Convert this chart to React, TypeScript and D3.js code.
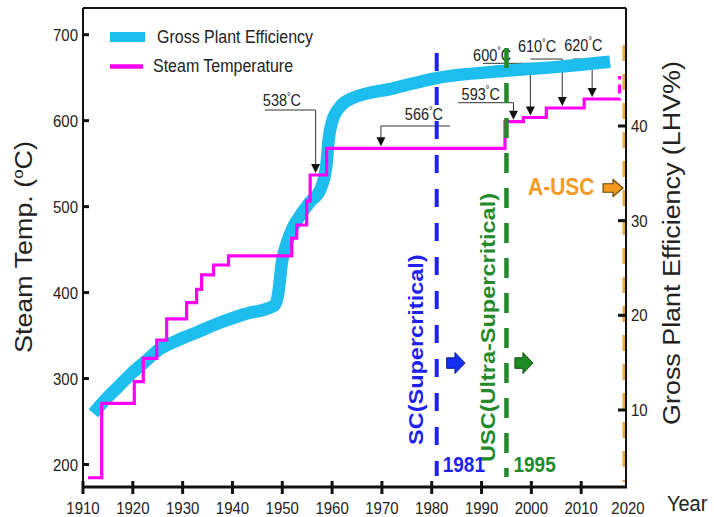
import React from "react";
import * as d3 from "d3";

// ---------- data ----------
const effYears = [1912.07, 1914.42, 1917.09, 1919.78, 1922.45, 1925.12, 1929.14, 1933.15, 1937.17, 1941.87, 1948.55, 1949.2, 1949.9, 1950.9, 1952.2, 1953.9, 1955.6, 1957.6, 1958.4, 1958.9, 1959.3, 1959.9, 1961.6, 1964.2, 1972.3, 1980.7, 1994.3, 2005.8, 2015.8];
const effValues = [9.65, 11.06, 12.46, 13.88, 15.1, 16.34, 17.4, 18.27, 19.16, 20.04, 21.09, 22.33, 25.5, 27.61, 29.36, 30.78, 32.0, 33.24, 34.5, 36.06, 38.52, 40.29, 42.04, 42.96, 43.98, 45.04, 45.81, 46.27, 46.79];

const tempYears = [1911.0, 1913.75, 1920.3, 1922.1, 1924.8, 1926.8, 1930.8, 1932.8, 1933.8, 1936.2, 1939.2, 1951.9, 1952.9, 1954.9, 1955.6, 1958.9, 1994.7, 1998.4, 2003.0, 2010.6, 2016.0];
const tempValues = [184.6, 271.0, 296.3, 323.5, 344.8, 369.3, 388.2, 403.8, 420.5, 432.1, 442.6, 463.2, 478.6, 506.5, 536.8, 567.8, 598.8, 603.7, 614.7, 625.2, 625.2];

const futureYears = [2016.0, 2017.7, 2017.7];
const futureTemps = [625.2, 625.2, 652];

const xTickValues = [1910, 1920, 1930, 1940, 1950, 1960, 1970, 1980, 1990, 2000, 2010];
const xTickLabels = ["1910", "1920", "1930", "1940", "1950", "1960", "1970", "1980", "1990", "2000", "2010", "2020"];
const leftTicks = [200, 300, 400, 500, 600, 700];
const rightTicks = [10, 20, 30, 40];

const annLabels = ["538", "566", "593", "600", "610", "620"];
const annArrowYears = [1956.7, 1969.8, 1996.4, 1999.8, 2006.2, 2012.2];
const annTargetTemps = [536.8, 567.8, 598.8, 603.7, 614.7, 625.2];
const annLeaderTemps = [612.4, 593.8, 620.9, 666.7, 671.7, 671.7];
const annLeaderStart = [1946.5, 1969.8, 1985.3, 1990.3, 1999.8, 2008.4];
const annLeaderEnd = [1956.7, 1983.7, 1996.4, 1999.8, 2006.2, 2012.2];
const annTextYears = [1946.1, 1974.6, 1986.0, 1988.3, 1997.3, 2006.6];
const annTextTemps = [616.5, 600.2, 624.3, 669.6, 679.3, 681.3];

const scYear = 1981;
const uscYear = 1995;

// ---------- styling ----------
const K = 1.12;
const FONT = "'Liberation Sans', Arial, Helvetica, sans-serif";
const CYAN = "#1dbdee";
const MAGENTA = "#ff00f5";
const BLUE = "#1e22ee";
const GREEN = "#24892b";
const ORANGE = "#f59b23";
const INK = "#222";

type TProps = {
  x: number; y: number; size: number; anchor?: string; weight?: string | number;
  fill?: string; rotate?: boolean; children: React.ReactNode;
};
const T = ({ x, y, size, anchor = "start", weight = "normal", fill = INK, rotate = false, children }: TProps) => (
  <text
    transform={`translate(${x},${y}) scale(1,${K})${rotate ? " rotate(-90)" : ""}`}
    fontSize={size}
    textAnchor={anchor as any}
    fontWeight={weight as any}
    fill={fill}
    fontFamily={FONT}
  >
    {children}
  </text>
);

function blockArrow(x0: number, x1: number, yc: number, h: number, bodyFrac = 0.45) {
  const xm = x0 + (x1 - x0) * bodyFrac;
  const bh = h * 0.25;
  return `M${x0},${yc - bh}L${xm},${yc - bh}L${xm},${yc - h / 2}L${x1},${yc}L${xm},${yc + h / 2}L${xm},${yc + bh}L${x0},${yc + bh}Z`;
}

export default function App() {
  const W = 714, H = 517;
  const x = d3.scaleLinear().domain([1910, 2020]).range([83, 631]);
  const yT = d3.scaleLinear().domain([200, 700]).range([464.5, 34.7]);
  const yE = d3.scaleLinear().domain([10, 40]).range([410, 126]);
  const left = x(1910), right = x(2019), top = 8, bottom = 487;

  const effLine = d3.line<number>()
    .x((_, i) => x(effYears[i]))
    .y((d) => yE(d))
    .curve(d3.curveMonotoneX);
  const tempLine = d3.line<number>()
    .x((_, i) => x(tempYears[i]))
    .y((d) => yT(d))
    .curve(d3.curveStepAfter);
  const futureLine = d3.line<number>()
    .x((_, i) => x(futureYears[i]))
    .y((d) => yT(d));

  return (
    <svg width={W} height={H} style={{ position: "absolute", left: 0, top: 0, display: "block", background: "#fff" }}>
      <rect x={0} y={0} width={W} height={H} fill="#fff" />

      {/* annotation leaders (behind curves) */}
      {annLabels.map((_, i) => {
        const ly = yT(annLeaderTemps[i]);
        const ax = x(annArrowYears[i]);
        const tip = yT(annTargetTemps[i]) - 2;
        return (
          <g key={"ann" + i}>
            <line x1={x(annLeaderStart[i])} x2={x(annLeaderEnd[i])} y1={ly} y2={ly} stroke="#333" strokeWidth={1} />
            <line x1={ax} x2={ax} y1={ly} y2={tip - 8} stroke="#333" strokeWidth={1} />
            <path d={`M${ax - 4.5},${tip - 9}L${ax + 4.5},${tip - 9}L${ax},${tip}Z`} fill="#111" />
          </g>
        );
      })}

      {/* efficiency curve */}
      <path d={effLine(effValues) || ""} fill="none" stroke={CYAN} strokeWidth={12.5} strokeLinecap="butt" strokeLinejoin="round" />

      {/* steam temperature step line */}
      <path d={tempLine(tempValues) || ""} fill="none" stroke={MAGENTA} strokeWidth={3.2} strokeLinejoin="miter" />
      <path d={futureLine(futureTemps) || ""} fill="none" stroke={MAGENTA} strokeWidth={3.2} strokeDasharray="9,5" />

      {/* annotation labels */}
      {annLabels.map((l, i) => (
        <T key={"at" + i} x={x(annTextYears[i])} y={yT(annTextTemps[i])} size={14.5}>
          {l}
          <tspan fontSize={9} dy={-6}>°</tspan>
          <tspan dy={6}>C</tspan>
        </T>
      ))}

      {/* vertical dashed markers */}
      <line x1={x(scYear)} x2={x(scYear)} y1={53} y2={476} stroke={BLUE} strokeWidth={4} strokeDasharray="18,16" />
      <line x1={x(uscYear)} x2={x(uscYear)} y1={48} y2={477} stroke={GREEN} strokeWidth={4.5} strokeDasharray="20,15" />
      <line x1={right - 1.5} x2={right - 1.5} y1={45} y2={482} stroke="#eba83c" strokeWidth={4} strokeDasharray="16,13" />

      {/* era labels */}
      <T x={423} y={445} size={21} weight="bold" fill={BLUE} rotate>SC(Supercritical)</T>
      <T x={495} y={462} size={21} weight="bold" fill={GREEN} rotate>USC(Ultra-Supercritical)</T>
      <T x={x(scYear) + 6} y={472} size={19} weight="bold" fill={BLUE}>{String(scYear)}</T>
      <T x={x(uscYear) + 7} y={472} size={19} weight="bold" fill={GREEN}>{String(uscYear)}</T>
      <path d={blockArrow(x(1983.0), x(1986.7), yT(318), 21)} fill="#1430f2" stroke="#0b1a90" strokeWidth={1} />
      <path d={blockArrow(x(1996.7), x(2000.3), yT(318), 21)} fill="#1f8a22" stroke="#0d4d10" strokeWidth={1} />
      <T x={528} y={195} size={21} weight="bold" fill={ORANGE}>A-USC</T>
      <path d={blockArrow(x(2014.4), x(2018.4), yE(33.45), 17, 0.5)} fill="#f39a1e" stroke="#6b4200" strokeWidth={1.2} />

      {/* frame */}
      <line x1={left} x2={left} y1={top} y2={bottom} stroke="#111" strokeWidth={2} />
      <line x1={left} x2={right} y1={top} y2={top} stroke="#111" strokeWidth={2} />
      <line x1={right} x2={right} y1={top} y2={bottom} stroke="#111" strokeWidth={2} />
      <line x1={left - 1} x2={right + 1} y1={bottom} y2={bottom} stroke="#111" strokeWidth={3} />

      {/* left axis */}
      {leftTicks.map((v) => (
        <g key={"lt" + v}>
          <line x1={left} x2={left + 6} y1={yT(v)} y2={yT(v)} stroke="#111" strokeWidth={3} />
          <T x={left - 5} y={yT(v) + 6} size={15} anchor="end">{String(v)}</T>
        </g>
      ))}
      {/* right axis */}
      {rightTicks.map((v) => (
        <g key={"rt" + v}>
          <line x1={right - 8} x2={right} y1={yE(v)} y2={yE(v)} stroke="#111" strokeWidth={3} />
          <T x={right + 5} y={yE(v) + 6} size={15}>{String(v)}</T>
        </g>
      ))}
      {/* bottom axis */}
      {xTickValues.map((v) => (
        <line key={"bt" + v} x1={x(v)} x2={x(v)} y1={bottom - 6} y2={bottom + 7} stroke="#111" strokeWidth={3} />
      ))}
      {xTickLabels.map((l, i) => (
        <T key={"bl" + l} x={i < xTickValues.length ? x(xTickValues[i]) : right + 2} y={514} size={15} anchor="middle">{l}</T>
      ))}
      <T x={667} y={511} size={20}>Year</T>

      {/* axis titles */}
      <T x={32} y={247} size={24} anchor="middle" rotate>
        Steam Temp. (<tspan fontSize={15} dy={-9}>o</tspan><tspan dy={9}>C)</tspan>
      </T>
      <T x={680} y={243} size={24} anchor="middle" rotate>Gross Plant Efficiency (LHV%)</T>

      {/* legend */}
      <rect x={110} y={32} width={35} height={10} fill={CYAN} />
      <T x={157} y={43} size={16}>Gross Plant Efficiency</T>
      <line x1={110} x2={143} y1={66.5} y2={66.5} stroke={MAGENTA} strokeWidth={4.5} />
      <T x={153} y={72} size={16}>Steam Temperature</T>
    </svg>
  );
}
